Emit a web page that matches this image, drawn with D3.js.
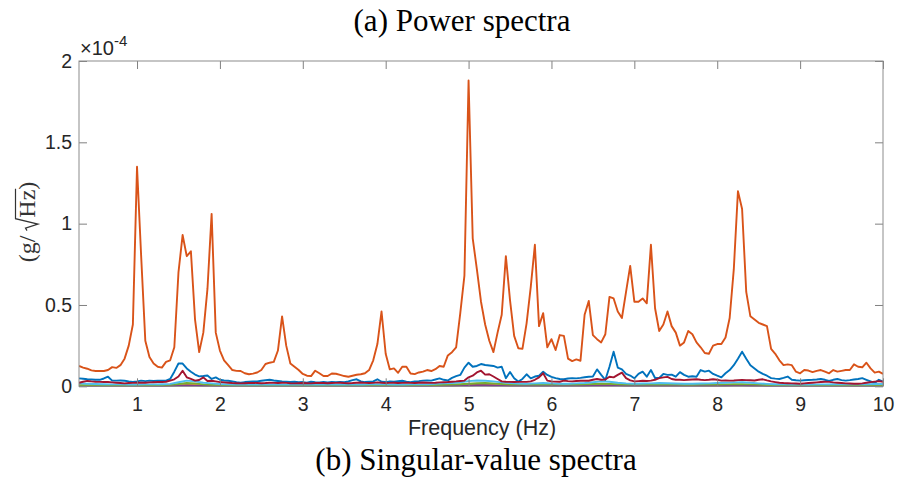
<!DOCTYPE html>
<html lang="en">
<head>
<meta charset="utf-8">
<title>Power spectra</title>
<script src="https://cdn.jsdelivr.net/npm/d3@7"></script>
<style>
  body { margin: 0; background: #fff; }
  svg { display: block; }
  .tick text { font-family: "Liberation Sans", Arial, sans-serif; font-size: 19.5px; fill: #262626; }
  .tick line { stroke: #808080; }
  .caption { font-family: "Liberation Serif", "Times New Roman", serif; font-size: 31px; fill: #000; }
</style>
</head>
<body>
<script>
// frequency grids (Hz)
var freqStart = 0.3;
var fineStep = 0.05;    // sv1..sv3
var coarseStep = 0.1;   // sv4..sv7

// singular values, units of 1e-4 g/sqrt(Hz)
var sv1 = [ // orange
  0.125, 0.115, 0.108, 0.098, 0.094, 0.094, 0.094, 0.100, 0.118, 0.113, 0.130, 0.170, 0.250, 0.380,
  1.35, 0.80, 0.28, 0.18, 0.14, 0.12, 0.115, 0.15, 0.16, 0.24, 0.70, 0.93, 0.80, 0.83, 0.41, 0.21, 0.33, 0.60, 1.06, 0.33,
  0.22, 0.16, 0.13, 0.10, 0.095, 0.094, 0.08, 0.074, 0.078, 0.085, 0.10, 0.137, 0.145, 0.15, 0.22, 0.43, 0.25, 0.14, 0.12, 0.10,
  0.076, 0.065, 0.063, 0.096, 0.08, 0.063, 0.063, 0.079, 0.077, 0.07, 0.063, 0.059, 0.065, 0.071, 0.074, 0.08, 0.10, 0.16, 0.26, 0.46,
  0.20, 0.104, 0.11, 0.083, 0.12, 0.12, 0.079, 0.075, 0.085, 0.09, 0.10, 0.094, 0.105, 0.125, 0.12, 0.19, 0.21, 0.24, 0.45, 0.68,
  1.88, 0.91, 0.72, 0.52, 0.38, 0.28, 0.21, 0.33, 0.44, 0.80, 0.53, 0.31, 0.234, 0.23, 0.387, 0.61, 0.87, 0.37, 0.45, 0.24,
  0.29, 0.223, 0.315, 0.31, 0.17, 0.155, 0.165, 0.157, 0.44, 0.525, 0.315, 0.29, 0.27, 0.32, 0.55, 0.54, 0.46, 0.42, 0.58, 0.74,
  0.52, 0.52, 0.54, 0.51, 0.87, 0.48, 0.34, 0.38, 0.46, 0.37, 0.33, 0.25, 0.27, 0.34, 0.32, 0.27, 0.24, 0.205, 0.20, 0.25,
  0.26, 0.26, 0.30, 0.42, 0.72, 1.20, 1.09, 0.58, 0.43, 0.41, 0.39, 0.38, 0.37, 0.23, 0.20, 0.16, 0.13, 0.135, 0.13, 0.09,
  0.08, 0.10, 0.097, 0.087, 0.095, 0.10, 0.09, 0.08, 0.10, 0.09, 0.095, 0.10, 0.10, 0.135, 0.12, 0.117, 0.145, 0.11, 0.084, 0.09,
  0.076
];
var sv2 = [ // blue
  0.049, 0.046, 0.043, 0.042, 0.040, 0.040, 0.048, 0.059, 0.035, 0.035, 0.036, 0.034, 0.030, 0.027,
  0.030, 0.035, 0.032, 0.035, 0.033, 0.035, 0.034, 0.035, 0.045, 0.090, 0.140, 0.140, 0.110, 0.090, 0.072, 0.061, 0.063, 0.066, 0.045, 0.055,
  0.040, 0.036, 0.034, 0.030, 0.025, 0.022, 0.026, 0.028, 0.030, 0.030, 0.034, 0.037, 0.040, 0.036, 0.033, 0.030, 0.028, 0.026, 0.028, 0.025,
  0.026, 0.022, 0.028, 0.025, 0.024, 0.026, 0.024, 0.027, 0.025, 0.026, 0.025, 0.030, 0.038, 0.043, 0.030, 0.026, 0.028, 0.030, 0.043, 0.028,
  0.026, 0.030, 0.028, 0.031, 0.034, 0.028, 0.025, 0.030, 0.032, 0.035, 0.036, 0.035, 0.042, 0.049, 0.040, 0.036, 0.052, 0.062, 0.070, 0.115,
  0.145, 0.120, 0.125, 0.137, 0.131, 0.128, 0.125, 0.115, 0.120, 0.050, 0.088, 0.049, 0.029, 0.045, 0.074, 0.049, 0.060, 0.065, 0.090, 0.070,
  0.058, 0.050, 0.045, 0.043, 0.048, 0.050, 0.049, 0.052, 0.056, 0.059, 0.060, 0.104, 0.070, 0.039, 0.120, 0.213, 0.115, 0.104, 0.076, 0.066,
  0.049, 0.076, 0.090, 0.059, 0.100, 0.051, 0.052, 0.076, 0.070, 0.072, 0.059, 0.087, 0.070, 0.059, 0.062, 0.059, 0.100, 0.090, 0.096, 0.076,
  0.065, 0.055, 0.080, 0.100, 0.130, 0.170, 0.213, 0.170, 0.130, 0.110, 0.090, 0.076, 0.065, 0.050, 0.047, 0.045, 0.052, 0.060, 0.040, 0.037,
  0.035, 0.037, 0.039, 0.040, 0.042, 0.045, 0.040, 0.033, 0.040, 0.045, 0.038, 0.035, 0.038, 0.042, 0.045, 0.050, 0.040, 0.030, 0.020, 0.040,
  0.030
];
var sv3 = [ // dark red
  0.022, 0.028, 0.033, 0.030, 0.028, 0.027, 0.026, 0.026, 0.024, 0.022, 0.020, 0.018, 0.020, 0.021,
  0.022, 0.022, 0.022, 0.024, 0.025, 0.026, 0.026, 0.028, 0.035, 0.043, 0.060, 0.096, 0.055, 0.045, 0.035, 0.039, 0.055, 0.033, 0.034, 0.030,
  0.026, 0.024, 0.022, 0.020, 0.019, 0.018, 0.019, 0.020, 0.021, 0.020, 0.019, 0.020, 0.022, 0.021, 0.020, 0.022, 0.021, 0.019, 0.018, 0.019,
  0.020, 0.019, 0.018, 0.020, 0.021, 0.020, 0.019, 0.020, 0.021, 0.022, 0.020, 0.019, 0.020, 0.022, 0.023, 0.021, 0.020, 0.021, 0.024, 0.022,
  0.020, 0.021, 0.022, 0.020, 0.021, 0.022, 0.021, 0.020, 0.022, 0.023, 0.022, 0.021, 0.022, 0.024, 0.025, 0.026, 0.028, 0.030, 0.033, 0.035,
  0.055, 0.065, 0.085, 0.096, 0.072, 0.074, 0.060, 0.045, 0.030, 0.028, 0.027, 0.026, 0.027, 0.027, 0.027, 0.030, 0.040, 0.055, 0.080, 0.035,
  0.030, 0.029, 0.028, 0.035, 0.032, 0.030, 0.033, 0.034, 0.035, 0.034, 0.040, 0.045, 0.040, 0.042, 0.059, 0.055, 0.070, 0.084, 0.050, 0.036,
  0.030, 0.032, 0.034, 0.033, 0.035, 0.040, 0.050, 0.055, 0.058, 0.045, 0.040, 0.040, 0.038, 0.040, 0.042, 0.043, 0.040, 0.038, 0.040, 0.043,
  0.040, 0.035, 0.036, 0.035, 0.036, 0.038, 0.039, 0.038, 0.037, 0.036, 0.040, 0.043, 0.036, 0.030, 0.026, 0.022, 0.020, 0.019, 0.018, 0.017,
  0.016, 0.018, 0.020, 0.022, 0.024, 0.026, 0.028, 0.027, 0.024, 0.022, 0.020, 0.018, 0.017, 0.016, 0.016, 0.018, 0.022, 0.026, 0.029, 0.032,
  0.028
];
var sv4 = [ // cyan
  0.018, 0.016, 0.014, 0.013, 0.012, 0.012, 0.011,
  0.011, 0.012, 0.012, 0.013, 0.015, 0.025, 0.035, 0.030, 0.022, 0.018,
  0.014, 0.012, 0.011, 0.010, 0.010, 0.011, 0.011, 0.010, 0.010, 0.011,
  0.010, 0.010, 0.011, 0.010, 0.010, 0.011, 0.012, 0.011, 0.012, 0.013,
  0.012, 0.011, 0.011, 0.012, 0.012, 0.013, 0.015, 0.018, 0.020, 0.025,
  0.032, 0.036, 0.034, 0.030, 0.024, 0.020, 0.017, 0.016, 0.018, 0.020,
  0.018, 0.016, 0.016, 0.018, 0.020, 0.025, 0.030, 0.028, 0.022, 0.018,
  0.016, 0.017, 0.018, 0.020, 0.019, 0.017, 0.016, 0.016, 0.017, 0.018,
  0.020, 0.022, 0.024, 0.025, 0.022, 0.018, 0.015, 0.013, 0.012, 0.011,
  0.011, 0.011, 0.012, 0.012, 0.013, 0.013, 0.012, 0.012, 0.013, 0.014,
  0.014
];
var sv5 = [ // green
  0.007, 0.006, 0.006, 0.005, 0.005, 0.005, 0.005,
  0.005, 0.005, 0.006, 0.007, 0.009, 0.014, 0.020, 0.018, 0.012, 0.009,
  0.007, 0.006, 0.005, 0.005, 0.005, 0.005, 0.005, 0.005, 0.005, 0.005,
  0.005, 0.005, 0.005, 0.005, 0.005, 0.005, 0.006, 0.006, 0.006, 0.006,
  0.006, 0.006, 0.006, 0.006, 0.007, 0.007, 0.008, 0.009, 0.011, 0.013,
  0.016, 0.019, 0.020, 0.018, 0.014, 0.011, 0.010, 0.010, 0.011, 0.012,
  0.011, 0.010, 0.010, 0.011, 0.012, 0.014, 0.016, 0.015, 0.013, 0.011,
  0.010, 0.010, 0.011, 0.011, 0.010, 0.010, 0.009, 0.009, 0.010, 0.010,
  0.011, 0.012, 0.013, 0.013, 0.012, 0.010, 0.008, 0.007, 0.007, 0.006,
  0.006, 0.006, 0.006, 0.006, 0.006, 0.006, 0.006, 0.006, 0.006, 0.006,
  0.006
];
var sv6 = [ // yellow
  0.004, 0.004, 0.003, 0.003, 0.003, 0.003, 0.003,
  0.003, 0.003, 0.003, 0.004, 0.005, 0.007, 0.009, 0.008, 0.006, 0.005,
  0.004, 0.003, 0.003, 0.003, 0.003, 0.003, 0.003, 0.003, 0.003, 0.003,
  0.003, 0.003, 0.003, 0.003, 0.003, 0.003, 0.003, 0.003, 0.003, 0.003,
  0.003, 0.003, 0.003, 0.003, 0.004, 0.004, 0.004, 0.005, 0.006, 0.007,
  0.009, 0.010, 0.010, 0.009, 0.007, 0.006, 0.005, 0.005, 0.005, 0.006,
  0.006, 0.005, 0.005, 0.006, 0.006, 0.007, 0.008, 0.008, 0.007, 0.006,
  0.005, 0.005, 0.006, 0.006, 0.005, 0.005, 0.005, 0.005, 0.005, 0.005,
  0.006, 0.006, 0.007, 0.007, 0.006, 0.005, 0.004, 0.004, 0.004, 0.003,
  0.003, 0.003, 0.003, 0.003, 0.003, 0.003, 0.003, 0.003, 0.003, 0.003,
  0.003
];
var sv7 = [ // purple
  0.002, 0.002, 0.002, 0.002, 0.002, 0.002, 0.002,
  0.002, 0.002, 0.002, 0.002, 0.003, 0.004, 0.005, 0.004, 0.003, 0.003,
  0.002, 0.002, 0.002, 0.002, 0.002, 0.002, 0.002, 0.002, 0.002, 0.002,
  0.002, 0.002, 0.002, 0.002, 0.002, 0.002, 0.002, 0.002, 0.002, 0.002,
  0.002, 0.002, 0.002, 0.002, 0.002, 0.002, 0.003, 0.003, 0.003, 0.004,
  0.005, 0.006, 0.006, 0.005, 0.004, 0.003, 0.003, 0.003, 0.003, 0.003,
  0.003, 0.003, 0.003, 0.003, 0.003, 0.004, 0.005, 0.005, 0.004, 0.003,
  0.003, 0.003, 0.003, 0.003, 0.003, 0.003, 0.003, 0.003, 0.003, 0.003,
  0.003, 0.003, 0.004, 0.004, 0.003, 0.003, 0.002, 0.002, 0.002, 0.002,
  0.002, 0.002, 0.002, 0.002, 0.002, 0.002, 0.002, 0.002, 0.002, 0.002,
  0.002
];

var xTicks = [1, 2, 3, 4, 5, 6, 7, 8, 9, 10];
var yTicks = [0, 0.5, 1, 1.5, 2];

// drawing order follows the default colour order
var series = [
  { values: sv2, step: fineStep, color: "#0072BD" },
  { values: sv1, step: fineStep, color: "#D95319" },
  { values: sv6, step: coarseStep, color: "#EDB120" },
  { values: sv7, step: coarseStep, color: "#7E2F8E" },
  { values: sv5, step: coarseStep, color: "#77AC30" },
  { values: sv4, step: coarseStep, color: "#4DBEEE" },
  { values: sv3, step: fineStep, color: "#A2142F" }
];

var w = 899, h = 490;
var plotL = 79, plotR = 883, plotT = 61, plotB = 386.3;

var x = d3.scaleLinear().domain([0.3, 10]).range([plotL, plotR]);
var y = d3.scaleLinear().domain([0, 2]).range([plotB, plotT]);

var svg = d3.select("body").append("svg")
  .attr("width", w)
  .attr("height", h);

svg.append("clipPath").attr("id", "plotClip")
  .append("rect")
  .attr("x", plotL).attr("y", plotT - 2)
  .attr("width", plotR - plotL).attr("height", plotB - plotT + 4);

// lines
var line = d3.line()
  .x(function (d) { return x(d.f); })
  .y(function (d) { return y(d.v); });

svg.append("g").attr("clip-path", "url(#plotClip)")
  .selectAll("path")
  .data(series)
  .enter()
  .append("path")
  .attr("fill", "none")
  .attr("stroke", function (s) { return s.color; })
  .attr("stroke-width", 1.9)
  .attr("stroke-linejoin", "round")
  .attr("d", function (s) {
    var pts = s.values.map(function (v, i) {
      return { f: freqStart + i * s.step, v: v };
    });
    return line(pts);
  });

// axes, ticks pointing inward
svg.append("g")
  .attr("transform", "translate(0," + plotB + ")")
  .call(d3.axisBottom(x).tickValues(xTicks).tickSizeInner(-8).tickSizeOuter(0).tickPadding(11))
  .call(function (g) { g.select(".domain").remove(); });

svg.append("g")
  .attr("transform", "translate(0," + plotT + ")")
  .call(d3.axisTop(x).tickValues(xTicks).tickSizeInner(-8).tickSizeOuter(0).tickFormat(""))
  .call(function (g) { g.select(".domain").remove(); });

svg.append("g")
  .attr("transform", "translate(" + plotL + ",0)")
  .call(d3.axisLeft(y).tickValues(yTicks).tickSizeInner(-8).tickSizeOuter(0).tickPadding(7)
    .tickFormat(function (d) { return d; }))
  .call(function (g) { g.select(".domain").remove(); });

svg.append("g")
  .attr("transform", "translate(" + plotR + ",0)")
  .call(d3.axisRight(y).tickValues(yTicks).tickSizeInner(-8).tickSizeOuter(0).tickFormat(""))
  .call(function (g) { g.select(".domain").remove(); });

svg.append("rect")
  .attr("x", plotL).attr("y", plotT)
  .attr("width", plotR - plotL).attr("height", plotB - plotT)
  .attr("fill", "none")
  .attr("stroke", "#8c8c8c")
  .attr("stroke-width", 1);

// exponent
var expo = svg.append("text")
  .attr("x", 80).attr("y", 55)
  .attr("font-family", "Liberation Sans, Arial, sans-serif")
  .attr("font-size", 20)
  .attr("fill", "#262626");
expo.append("tspan").text("\u00d710");
expo.append("tspan").attr("font-size", 15).attr("dy", -9).text("-4");

// axis label
svg.append("text")
  .attr("x", 482).attr("y", 435)
  .attr("text-anchor", "middle")
  .attr("font-family", "Liberation Sans, Arial, sans-serif")
  .attr("font-size", 21.5)
  .attr("fill", "#262626")
  .text("Frequency (Hz)");

// y label (g/ sqrt Hz), drawn rotated
var yl = svg.append("g").attr("transform", "translate(35,222) rotate(-90)");
var ylFont = 24;
var t1 = yl.append("text")
  .attr("font-family", "Liberation Serif, serif")
  .attr("font-size", ylFont).attr("fill", "#333")
  .text("(g/");
var t2 = yl.append("text")
  .attr("font-family", "Liberation Serif, serif")
  .attr("font-size", ylFont).attr("fill", "#333")
  .text("Hz)");
var w1 = t1.node().getComputedTextLength();
var w2 = t2.node().getComputedTextLength();
var wHz = t2.node().getSubStringLength(0, 2);
var gap = 5, rad = 13;
var total = w1 + gap + rad + w2;
var x0 = -total / 2;
t1.attr("x", x0);
var rx = x0 + w1 + gap;
t2.attr("x", rx + rad);
yl.append("path")
  .attr("fill", "none")
  .attr("stroke", "#333")
  .attr("stroke-width", 1.2)
  .attr("stroke-linejoin", "miter")
  .attr("d", "M" + rx + ",-8 L" + (rx + 2.5) + ",-9.5 L" + (rx + 6.5) + ",3 L" + (rx + 12) + ",-19.5 L" + (rx + rad + wHz + 1) + ",-19.5");

// panel captions
svg.append("text").attr("class", "caption")
  .attr("x", 462).attr("y", 31)
  .attr("text-anchor", "middle")
  .text("(a) Power spectra");

svg.append("text").attr("class", "caption")
  .attr("x", 476).attr("y", 470)
  .attr("text-anchor", "middle")
  .text("(b) Singular-value spectra");
</script>
</body>
</html>
